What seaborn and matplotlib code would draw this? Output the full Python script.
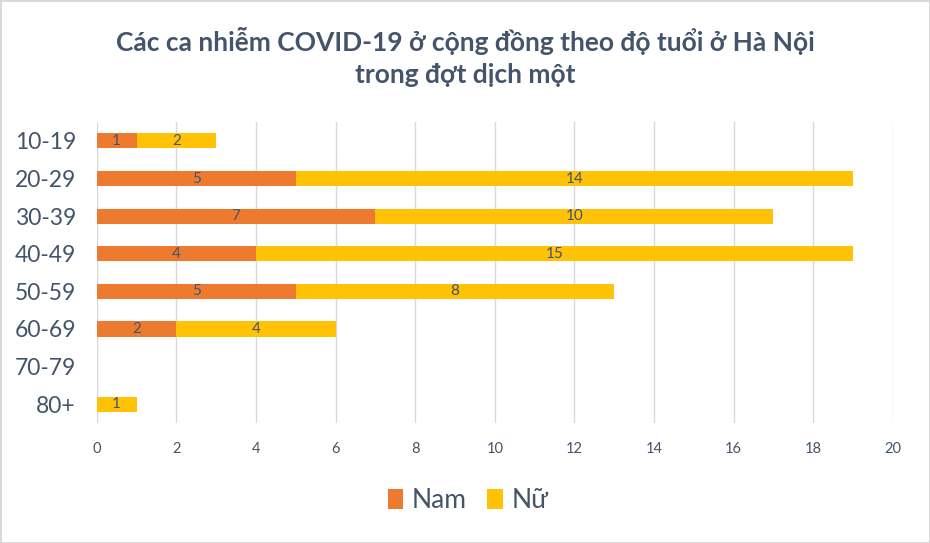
import matplotlib
matplotlib.use("Agg")
import matplotlib.pyplot as plt
import seaborn as sns
import pandas as pd
import numpy as np

categories = ["10-19", "20-29", "30-39", "40-49", "50-59", "60-69", "70-79", "80+"]
nam = [1, 5, 7, 4, 5, 2, 0, 0]
nu = [2, 14, 10, 15, 8, 4, 0, 1]
x_ticks = [0, 2, 4, 6, 8, 10, 12, 14, 16, 18, 20]
title = "Các ca nhiễm COVID-19 ở cộng đồng theo độ tuổi ở Hà Nội\ntrong đợt dịch một"

sns.set_theme(style="white")
plt.rcParams['font.family'] = ['Lato', 'DejaVu Sans']

TXT = "#44546A"
ORANGE = "#EE7A30"
YELLOW = "#FFC207"

df = pd.DataFrame({"age": categories, "Nam": nam, "Nữ": nu})
df["total"] = df["Nam"] + df["Nữ"]

fig = plt.figure(figsize=(9.3, 5.43), dpi=100)
ax = fig.add_axes([0.104, 0.221, 0.856, 0.554])

sns.barplot(data=df, y="age", x="total", orient="h", color=YELLOW, width=0.4,
            saturation=1, ax=ax, label="Nữ", zorder=3, linewidth=0)
sns.barplot(data=df, y="age", x="Nam", orient="h", color=ORANGE, width=0.4,
            saturation=1, ax=ax, label="Nam", zorder=3, linewidth=0)
if ax.get_legend() is not None:
    ax.get_legend().remove()

for i, (a, b) in enumerate(zip(nam, nu)):
    if a > 0:
        ax.text(a / 2, i, str(a), ha="center", va="center", color=TXT, fontsize=11, zorder=4)
    if b > 0:
        ax.text(a + b / 2, i, str(b), ha="center", va="center", color=TXT, fontsize=11, zorder=4)

ax.set_xlim(0, 20)
ax.set_ylim(7.5, -0.5)
ax.set_xticks(x_ticks)
ax.set_xticklabels([str(t) for t in x_ticks])
ax.xaxis.grid(True, color="#D9D9D9", linewidth=1, zorder=0)
ax.set_axisbelow(True)
for s in ax.spines.values():
    s.set_visible(False)
ax.set_xlabel("")
ax.set_ylabel("")
ax.tick_params(axis="x", colors=TXT, labelsize=10.5, length=0, pad=14)
ax.tick_params(axis="y", colors=TXT, labelsize=16.5, length=0, pad=15)

fig.suptitle(title, x=0.5, y=0.95, fontsize=19, fontweight="bold", color=TXT, linespacing=1.4)

handles, labels = ax.get_legend_handles_labels()
order = [labels.index("Nam"), labels.index("Nữ")]
leg = fig.legend([handles[k] for k in order], [labels[k] for k in order],
                 loc="center", bbox_to_anchor=(0.503, 0.078), ncol=2, frameon=False,
                 fontsize=19, handlelength=0.6, handleheight=0.75, handletextpad=0.3,
                 columnspacing=0.8)
for t in leg.get_texts():
    t.set_color(TXT)

fig.patch.set_edgecolor("#D9D9D9")
fig.patch.set_linewidth(2)
fig.savefig("out.png", dpi=100, facecolor="white", edgecolor=fig.get_edgecolor())
